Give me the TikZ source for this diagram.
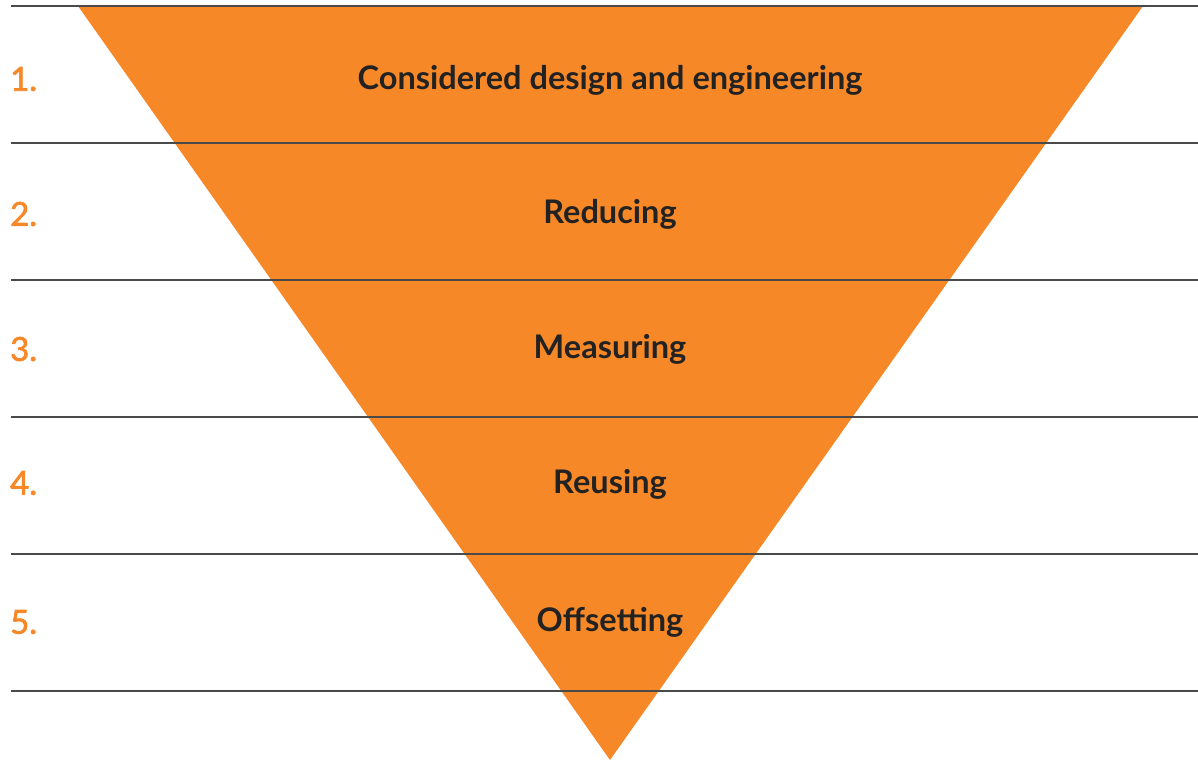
\documentclass[tikz,border=0pt]{standalone}
\usepackage{fontspec}
\setmainfont{Lato}
\newfontfamily\numfont[FakeBold=2]{Lato}
\definecolor{triorange}{HTML}{F68828}
\definecolor{rulegrey}{HTML}{4A4A4A}
\definecolor{labeltext}{HTML}{222222}
\begin{document}
\begin{tikzpicture}[x=1pt,y=-1pt,
  rowrule/.style={draw=rulegrey,line width=1.4pt},
  steplabel/.style={font=\fontsize{32.5}{36}\selectfont\bfseries,text=labeltext,anchor=center,inner sep=0pt},
  stepnum/.style={font=\fontsize{33}{36}\numfont,text=triorange,anchor=west,inner sep=0pt}]
\useasboundingbox (0,0) rectangle (1198,762);
\fill[triorange] (78,6) -- (1143,6) -- (610,760) -- cycle;
\foreach \y in {6,143,280,417,554,691} \draw[rowrule] (11,\y) -- (1198,\y);
\node[steplabel] (s1) at (610,80) {Considered design and engineering};
\node[steplabel] (s2) at (610,214) {Reducing};
\node[steplabel] (s3) at (610,349) {Measuring};
\node[steplabel] (s4) at (610,484) {Reusing};
\node[steplabel] (s5) at (610,622) {Offsetting};
\node[stepnum] (n1) at (10,79) {1.};
\node[stepnum] (n2) at (10,214) {2.};
\node[stepnum] (n3) at (10,349) {3.};
\node[stepnum] (n4) at (10,483) {4.};
\node[stepnum] (n5) at (10,622) {5.};
\end{tikzpicture}
\end{document}
